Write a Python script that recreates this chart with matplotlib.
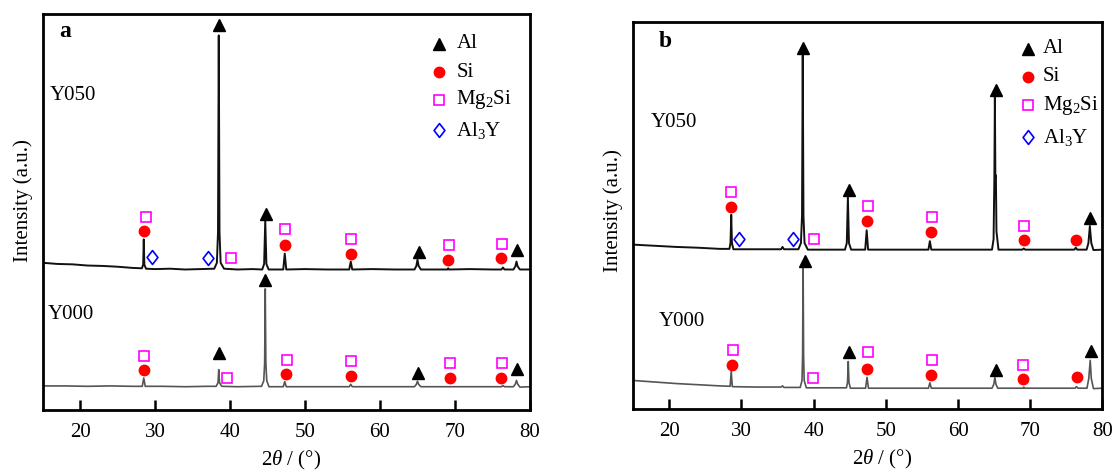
import numpy as np
import matplotlib
matplotlib.use("Agg")
import matplotlib.pyplot as plt
from matplotlib.path import Path

plt.rcParams['font.family'] = ['Liberation Serif', 'DejaVu Serif']
plt.rcParams['mathtext.fontset'] = 'custom'
plt.rcParams['mathtext.rm'] = 'Liberation Serif'
plt.rcParams['mathtext.it'] = 'Liberation Serif:italic'

# ---- panel a: diffraction patterns, (2theta, intensity) vertices ----
a_y050 = [(15, 37.3), (17, 37.0), (19, 36.9), (21, 36.6), (23, 36.5), (25, 36.3), (27, 36.0),
          (28.25, 35.9), (28.42, 36.8), (28.5, 43.2), (28.58, 36.8), (28.8, 35.8), (30, 35.7),
          (32, 35.8), (34, 35.6), (36, 35.7), (37.9, 35.8), (38.25, 37.3), (38.4, 45.0),
          (38.5, 94.7), (38.6, 45.0), (38.75, 37.3), (39.2, 35.8), (41, 35.6), (43, 35.7),
          (44.3, 35.6), (44.55, 37.0), (44.7, 48.0), (44.85, 37.0), (45.15, 35.6), (46, 35.6),
          (47.1, 35.6), (47.3, 39.6), (47.5, 35.6), (50, 35.7), (53, 35.6), (55.9, 35.6),
          (56.1, 37.6), (56.3, 35.6), (59, 35.7), (62, 35.6), (64.6, 35.6), (64.85, 36.5),
          (65.0, 38.1), (65.15, 36.5), (65.45, 35.6), (68, 35.6), (69.0, 35.6), (69.1, 35.9),
          (69.2, 35.6), (72, 35.7), (75, 35.6), (76.2, 35.6), (76.4, 36.1), (76.6, 35.6),
          (77.8, 35.6), (78.05, 36.4), (78.2, 37.6), (78.35, 36.4), (78.65, 35.6), (80, 35.6)]

a_y000 = [(15, 6.2), (18, 6.2), (21, 6.1), (24, 6.2), (27, 6.1), (28.3, 6.1), (28.5, 8.2),
          (28.7, 6.1), (31, 6.1), (34, 6.0), (37, 6.1), (38.15, 6.1), (38.4, 7.0), (38.5, 10.3),
          (38.6, 7.0), (38.9, 6.1), (41, 6.0), (44.2, 6.1), (44.5, 7.5), (44.62, 12.0),
          (44.7, 30.7), (44.78, 12.0), (44.9, 7.5), (45.2, 6.0), (47.1, 6.0), (47.3, 7.3),
          (47.5, 6.0), (52, 6.0), (55.9, 6.0), (56.1, 6.6), (56.3, 6.0), (60, 6.0), (64.6, 6.0),
          (64.85, 6.6), (65.0, 7.4), (65.15, 6.6), (65.45, 6.0), (70, 6.0), (74, 6.0),
          (76.2, 6.0), (76.4, 6.3), (76.6, 6.0), (77.8, 6.0), (78.05, 6.7), (78.2, 7.6),
          (78.35, 6.7), (78.65, 5.9), (80, 6.0)]

# phase markers, panel a
a_al = [(38.5, 97.4), (44.8, 49.7), (65.2, 40.1), (78.3, 40.4),
        (38.5, 14.5), (44.7, 33.0), (65.1, 9.5), (78.3, 10.4)]
a_si = [(28.55, 45.2), (47.3, 41.8), (56.1, 39.5), (69.1, 38.1), (76.2, 38.5),
        (28.5, 10.3), (47.4, 9.1), (56.1, 8.7), (69.3, 8.2), (76.1, 8.2)]
a_mg2si = [(28.8, 48.9), (40.1, 38.5), (47.3, 45.9), (56.2, 43.3), (69.2, 41.7), (76.3, 42.1),
           (28.5, 13.7), (39.6, 8.2), (47.55, 12.8), (56.2, 12.4), (69.3, 11.9), (76.3, 11.9)]
a_al3y = [(29.6, 38.7), (37.1, 38.5)]

# ---- panel b ----
b_y050 = [(15, 42.6), (18, 42.3), (21, 42.0), (24, 41.8), (27, 41.5), (28.35, 41.5),
          (28.5, 43.0), (28.6, 50.3), (28.7, 43.0), (28.9, 41.4), (32, 41.4), (35.5, 41.4),
          (35.7, 42.0), (35.9, 41.4), (37.9, 41.4), (38.25, 43.0), (38.4, 50.0), (38.5, 91.5),
          (38.6, 50.0), (38.75, 43.0), (39.2, 41.3), (42, 41.3), (44.35, 41.3), (44.6, 43.0),
          (44.75, 54.9), (44.9, 43.0), (45.2, 41.3), (47.15, 41.3), (47.35, 46.3), (47.55, 41.3),
          (51, 41.3), (55.9, 41.3), (56.1, 43.5), (56.3, 41.3), (60, 41.3), (64.7, 41.3),
          (64.92, 44.0), (65.03, 60.0), (65.1, 80.7), (65.17, 60.0), (65.24, 60.5), (65.32, 46.0),
          (65.6, 41.3), (68.9, 41.3), (69.1, 41.6), (69.3, 41.3), (74, 41.3), (76.1, 41.3),
          (76.3, 41.8), (76.5, 41.3), (77.8, 41.3), (78.05, 43.0), (78.25, 47.4), (78.45, 43.0),
          (78.75, 41.2), (80, 41.3)]

b_y000 = [(15, 7.5), (18, 7.1), (21, 6.7), (24, 6.4), (27, 6.1), (28.45, 6.0), (28.6, 9.9),
          (28.75, 5.9), (32, 5.8), (35.5, 5.8), (35.7, 6.1), (35.9, 5.7), (38.15, 5.7),
          (38.4, 7.5), (38.48, 14.0), (38.55, 37.2), (38.62, 14.0), (38.7, 7.5), (39.0, 5.6),
          (42, 5.6), (44.55, 5.6), (44.7, 7.0), (44.8, 12.4), (44.9, 7.0), (45.1, 5.5),
          (47.2, 5.5), (47.4, 8.3), (47.6, 5.5), (52, 5.5), (55.9, 5.5), (56.1, 6.9), (56.3, 5.5),
          (60, 5.5), (64.7, 5.5), (64.95, 6.5), (65.1, 8.3), (65.25, 6.5), (65.5, 5.5),
          (69.0, 5.5), (69.1, 5.8), (69.2, 5.5), (74, 5.5), (76.2, 5.5), (76.4, 5.9), (76.6, 5.5),
          (77.85, 5.5), (78.1, 8.0), (78.3, 12.7), (78.45, 8.0), (78.75, 5.4), (80, 5.5)]

b_al = [(38.6, 93.4), (44.85, 56.8), (65.2, 82.6), (78.3, 49.4),
        (38.75, 38.3), (44.9, 14.8), (65.3, 10.3), (78.4, 15.2)]
b_si = [(28.6, 52.2), (47.4, 48.7), (56.2, 45.8), (69.2, 43.7), (76.3, 43.7),
        (28.7, 11.6), (47.4, 10.5), (56.2, 8.8), (69.0, 7.9), (76.5, 8.3)]
b_mg2si = [(28.6, 56.2), (40.1, 44.0), (47.5, 52.5), (56.35, 49.7), (69.2, 47.5),
           (28.9, 15.4), (39.9, 8.2), (47.5, 14.8), (56.35, 12.8), (69.0, 11.4)]
b_al3y = [(29.7, 44.0), (37.1, 44.0)]

phase_labels = ['Al', 'Si', r'Mg$_2$Si', r'Al$_3$Y']
sample_labels = ['Y050', 'Y000']

# slightly narrow diamond used for Al3Y
diamond = Path([(0, 1), (0.78, 0), (0, -1), (-0.78, 0), (0, 1)],
               [Path.MOVETO, Path.LINETO, Path.LINETO, Path.LINETO, Path.CLOSEPOLY])

styles = [
    dict(marker='^', ms=9, color='black', ls='none'),
    dict(marker='o', ms=7.5, color='#ff0000', ls='none'),
    dict(marker='s', ms=6.5, mfc='none', mec='#ff00ff', mew=1.2, ls='none'),
    dict(marker=diamond, ms=10, mfc='none', mec='#0000ff', mew=1.2, ls='none'),
]

fig = plt.figure(figsize=(11.16, 4.71), dpi=100)
ax_a = fig.add_axes([0.0381, 0.1285, 0.4368, 0.8408])
ax_b = fig.add_axes([0.5672, 0.1306, 0.4207, 0.8217])

panels = [
    (ax_a, 'a', a_y050, a_y000, [a_al, a_si, a_mg2si, a_al3y],
     (17.2, 95.6), [(15.9, 79.5), (15.7, 24.2)], (67.9, 70.2), [92.6, 85.4, 78.5, 70.7], 0.53),
    (ax_b, 'b', b_y050, b_y000, [b_al, b_si, b_mg2si, b_al3y],
     (18.6, 95.2), [(17.5, 74.2), (18.5, 22.8)], (69.7, 71.7), [93.2, 86.0, 78.6, 70.4], 0.515),
]

for ax, tag, top, bottom, marks, tag_xy, sample_xy, leg_x, leg_y, ylab_y in panels:
    x1, y1 = np.array(top).T
    x0, y0 = np.array(bottom).T
    ax.plot(x1, y1, color='#111111', lw=1.4)
    ax.plot(x0, y0, color='#555555', lw=1.2)

    for pts, st in zip(marks, styles):
        px, py = np.array(pts).T
        ax.plot(px, py, **st)

    # legend drawn by hand
    for lab, ly, st in zip(phase_labels, leg_y, styles):
        ax.plot([leg_x[0]], [ly], **st)
        ax.text(leg_x[1], ly, lab, fontsize=15, va='center', ha='left')

    ax.text(tag_xy[0], tag_xy[1], tag, fontsize=17, fontweight='bold', va='center', ha='left')
    for lab, (sx, sy) in zip(sample_labels, sample_xy):
        ax.text(sx, sy, lab, fontsize=15, va='center', ha='left')

    ax.set_xlim(15, 80)
    ax.set_ylim(0, 100)
    ax.set_xticks([20, 30, 40, 50, 60, 70, 80])
    ax.set_yticks([])
    ax.tick_params(axis='x', direction='in', length=7, width=1.8, labelsize=15, pad=9)
    for sp in ax.spines.values():
        sp.set_linewidth(2.0)

    ax.set_xlabel(r'$\mathit{2\theta}$ / (°)', fontsize=15, labelpad=5)
    ax.set_ylabel('Intensity (a.u.)', fontsize=15, labelpad=7)
    ax.yaxis.label.set_y(ylab_y)

ax_a.xaxis.label.set_x(0.51)
ax_b.xaxis.label.set_x(0.53)

fig.savefig('out.png', dpi=100)
